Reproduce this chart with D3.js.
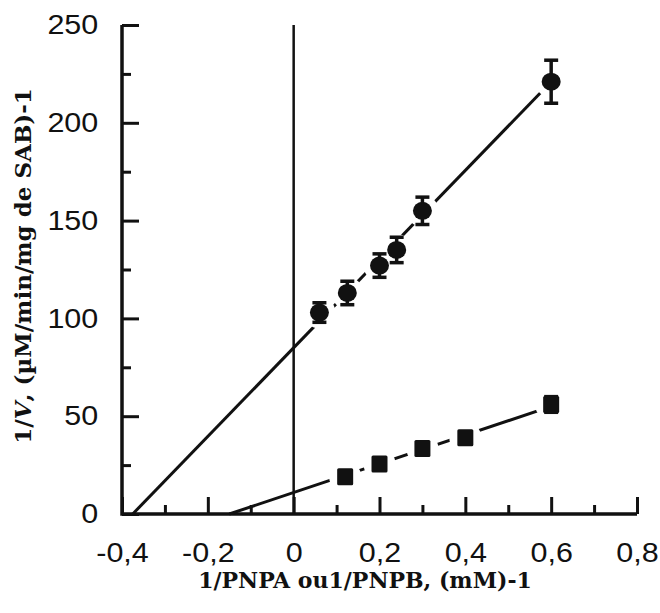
<!DOCTYPE html>
<html>
<head>
<meta charset="utf-8">
<script src="https://cdn.jsdelivr.net/npm/d3@7"></script>
<style>
  body { margin: 0; background: #fff; }
  svg { display: block; }
  .tick text { font-family: "Liberation Sans", Arial, sans-serif; font-size: 27px; fill: #111; }
  .axis-title { font-family: "DejaVu Serif", serif; font-weight: bold; fill: #111; }
</style>
</head>
<body>
<svg id="chart" width="660" height="613"></svg>
<script>
// PNPA (circles) and PNPB (squares), Lineweaver-Burk
const pnpaX = [0.06, 0.125, 0.2, 0.24, 0.3, 0.6];
const pnpaY = [103, 113, 127, 135, 155, 221];
const pnpaErr = [5, 6, 6, 6.5, 7, 11];

const pnpbX = [0.12, 0.2, 0.3, 0.4, 0.6];
const pnpbY = [19, 25.5, 33.5, 39, 56];
const pnpbErr = [2, 2, 2.5, 2.5, 4];

// regression lines, end points
const pnpaFitX = [-0.375, 0.6];
const pnpaFitY = [0, 221];
const pnpbFitX = [-0.15, 0.6];
const pnpbFitY = [0, 55];

const xMajor = [-0.4, -0.2, 0, 0.2, 0.4, 0.6, 0.8];
const xMinor = [-0.3, -0.1, 0.1, 0.3, 0.5, 0.7];
const yMajor = [0, 50, 100, 150, 200, 250];
const yMinor = [25, 75, 125, 175, 225];

const svg = d3.select('#chart');

const x = d3.scaleLinear().domain([-0.4, 0.8]).range([122, 637]);
const y = d3.scaleLinear().domain([0, 250]).range([514, 25]);

const fmtX = d => d === 0 ? '0' : String(+d.toFixed(1)).replace('.', ',');

// minor ticks
svg.append('g')
  .attr('transform', `translate(0,${y(0)})`)
  .call(d3.axisBottom(x).tickValues(xMinor).tickSize(-9).tickSizeOuter(0).tickFormat(''))
  .call(g => g.select('.domain').remove());
svg.append('g')
  .attr('transform', `translate(${x(-0.4)},0)`)
  .call(d3.axisLeft(y).tickValues(yMinor).tickSize(-9).tickSizeOuter(0).tickFormat(''))
  .call(g => g.select('.domain').remove());

// major ticks + labels
const xAxis = svg.append('g')
  .attr('transform', `translate(0,${y(0)})`)
  .call(d3.axisBottom(x).tickValues(xMajor).tickSize(-17).tickSizeOuter(0).tickPadding(29).tickFormat(fmtX))
  .call(g => g.select('.domain').remove());
xAxis.selectAll('.tick text').attr('transform', 'scale(1.13,1)');

const yAxis = svg.append('g')
  .attr('transform', `translate(${x(-0.4)},0)`)
  .call(d3.axisLeft(y).tickValues(yMajor).tickSize(-17).tickSizeOuter(0).tickPadding(21))
  .call(g => g.select('.domain').remove());
yAxis.selectAll('.tick text').attr('transform', 'scale(1.13,1)');

svg.selectAll('.tick line').attr('stroke', '#111').attr('stroke-width', 3);

// axis lines
svg.append('path')
  .attr('d', `M${x(-0.4)},${y(250)}V${y(0)}H${x(0.8)}`)
  .attr('fill', 'none').attr('stroke', '#111').attr('stroke-width', 3.5)
  .attr('stroke-linejoin', 'miter');

// x = 0 line
svg.append('line')
  .attr('x1', x(0)).attr('x2', x(0))
  .attr('y1', y(250)).attr('y2', y(0))
  .attr('stroke', '#111').attr('stroke-width', 2.5);

// fit lines
const line = d3.line().x(d => x(d[0])).y(d => y(d[1]));
[[pnpaFitX, pnpaFitY], [pnpbFitX, pnpbFitY]].forEach(([fx, fy]) => {
  svg.append('path')
    .attr('d', line(d3.zip(fx, fy)))
    .attr('fill', 'none').attr('stroke', '#111').attr('stroke-width', 3);
});

const pnpa = d3.zip(pnpaX, pnpaY, pnpaErr);
const pnpb = d3.zip(pnpbX, pnpbY, pnpbErr);

// white knockouts round the markers
svg.append('g').selectAll('circle')
  .data(pnpa.concat(pnpb))
  .join('circle')
  .attr('cx', d => x(d[0])).attr('cy', d => y(d[1]))
  .attr('r', 16).attr('fill', '#fff');

// error bars
function errorBars(data) {
  const g = svg.append('g').attr('stroke', '#111').attr('stroke-width', 3.5);
  g.selectAll('line.v').data(data).join('line').attr('class', 'v')
    .attr('x1', d => x(d[0])).attr('x2', d => x(d[0]))
    .attr('y1', d => y(d[1] - d[2])).attr('y2', d => y(d[1] + d[2]));
  g.selectAll('line.cap').data(data.flatMap(d => [[d[0], d[1] - d[2]], [d[0], d[1] + d[2]]]))
    .join('line').attr('class', 'cap')
    .attr('x1', d => x(d[0]) - 7).attr('x2', d => x(d[0]) + 7)
    .attr('y1', d => y(d[1])).attr('y2', d => y(d[1]));
}
errorBars(pnpa);
errorBars(pnpb);

// markers
svg.append('g').selectAll('ellipse')
  .data(pnpa)
  .join('ellipse')
  .attr('cx', d => x(d[0])).attr('cy', d => y(d[1]))
  .attr('rx', 9.5).attr('ry', 9)
  .attr('fill', '#111');

svg.append('g').selectAll('rect')
  .data(pnpb)
  .join('rect')
  .attr('x', d => x(d[0]) - 8).attr('y', d => y(d[1]) - 8.5)
  .attr('width', 16).attr('height', 17).attr('rx', 1.5)
  .attr('fill', '#111');

// axis titles
svg.append('text')
  .attr('class', 'axis-title')
  .attr('x', 365).attr('y', 588)
  .attr('font-size', 22)
  .attr('text-anchor', 'middle')
  .text('1/PNPA ou1/PNPB, (mM)-1');

const yt = svg.append('text')
  .attr('class', 'axis-title')
  .attr('font-size', 23)
  .attr('transform', 'translate(31,266) rotate(-90)')
  .attr('text-anchor', 'middle');
yt.append('tspan').text('1/');
yt.append('tspan').attr('font-style', 'italic').text('V');
yt.append('tspan').text(', (µM/min/mg de SAB)-1');
</script>
</body>
</html>
